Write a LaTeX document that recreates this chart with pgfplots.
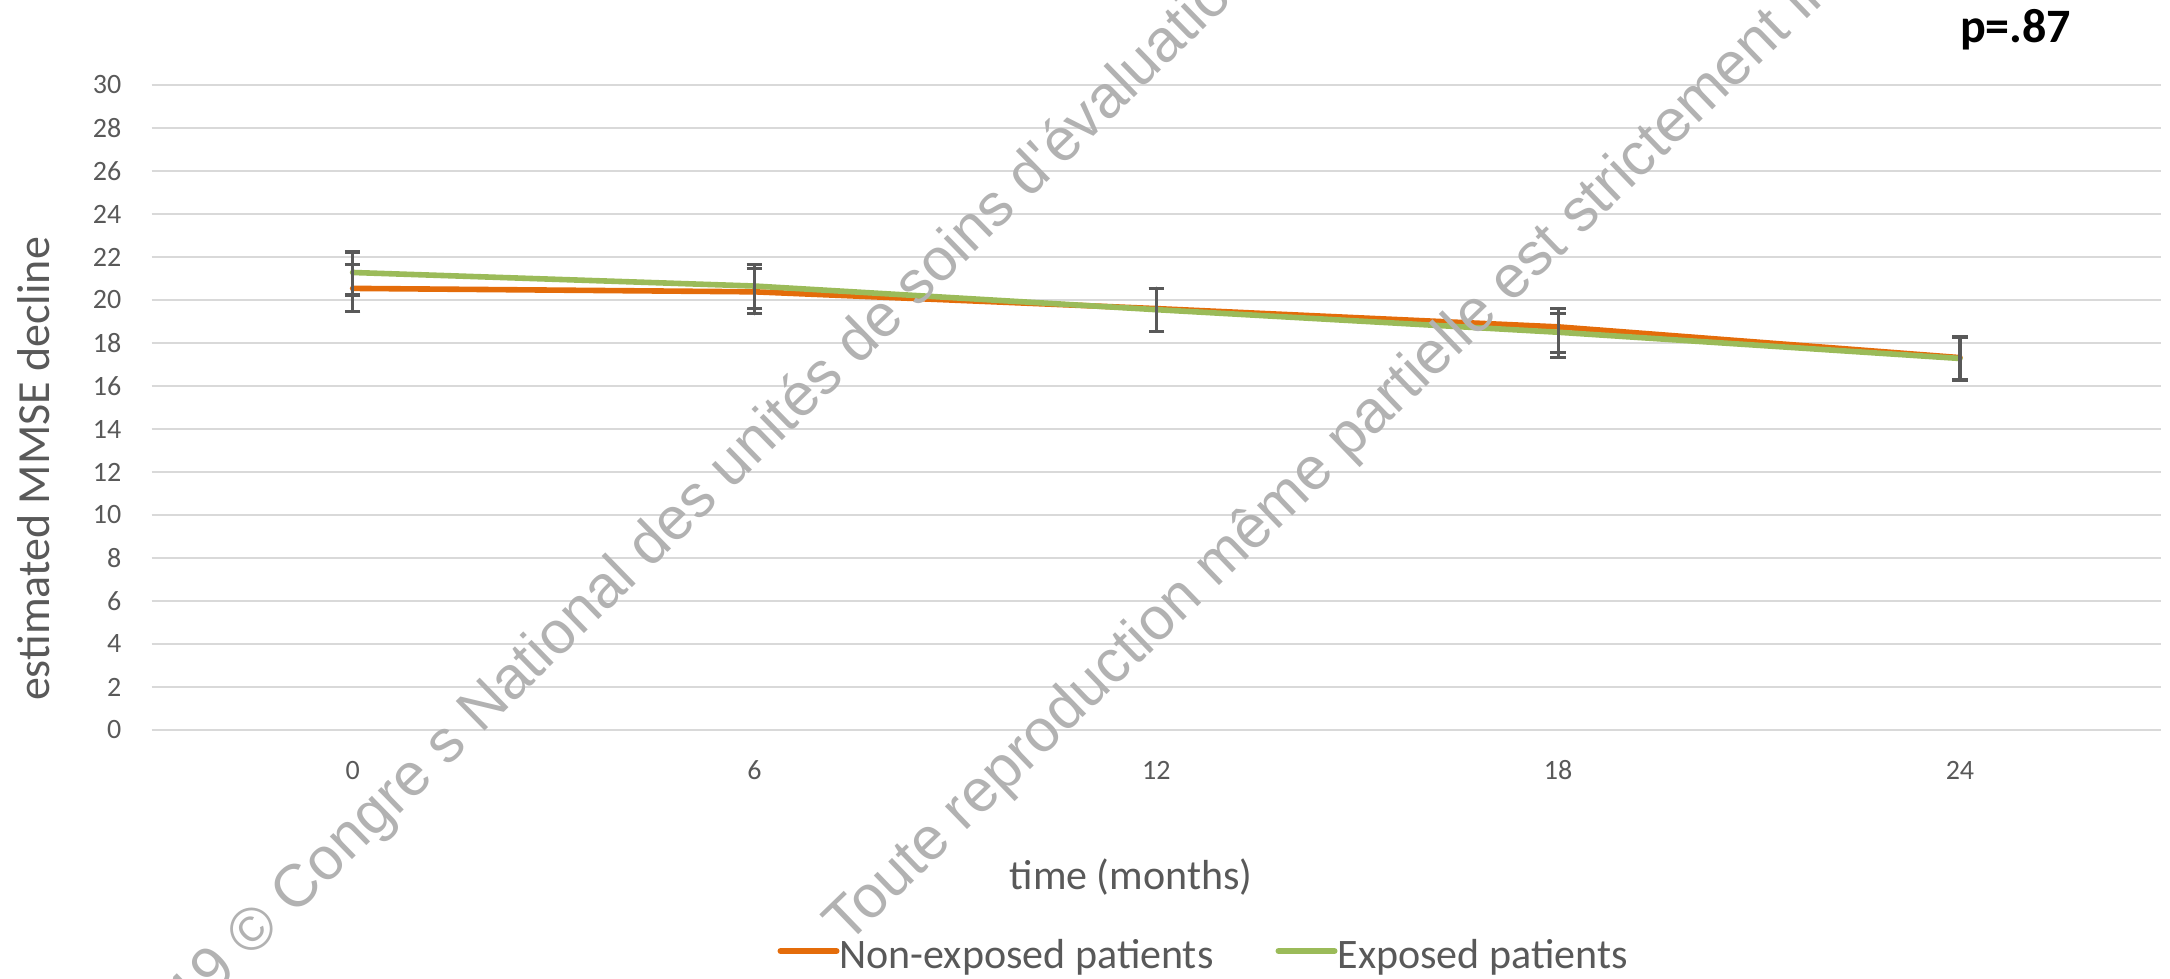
\documentclass[border=0pt]{standalone}
\usepackage{fontspec}
\setmainfont{Carlito}
\newfontfamily\wmfont{Liberation Sans}
\usepackage{pgfplots}
\pgfplotsset{compat=1.18}
\definecolor{txtgray}{RGB}{89,89,89}
\definecolor{gridgray}{RGB}{217,217,217}
\definecolor{orangeline}{RGB}{228,108,10}
\definecolor{greenline}{RGB}{155,187,89}
\definecolor{wmgray}{RGB}{178,178,178}
\begin{document}
\begin{tikzpicture}
\useasboundingbox (-75.85bp,-124.5bp) rectangle (1009.15bp,365bp);
\begin{axis}[
  at={(0,0)}, anchor=south west,
  scale only axis, width=1004.6bp, height=322.5bp,
  xmin=-3, xmax=27, ymin=0, ymax=30,
  xtick={0,6,12,18,24}, ytick={0,2,...,30},
  ymajorgrids, major grid style={draw=gridgray, line width=1.3bp},
  axis line style={draw=none}, major tick length=0pt,
  /pgf/number format/assume math mode=true,
  tick label style={font=\fontsize{14bp}{16bp}\selectfont, text=txtgray},
  xticklabel style={anchor=base, inner sep=0pt, yshift=-24.5bp},
  yticklabel style={anchor=east, inner sep=0pt, xshift=-15bp},
  xlabel={time (months)},
  xlabel style={at={(axis description cs:0.4874,-0.2465)}, anchor=base, inner sep=0pt, font=\fontsize{21bp}{24bp}\selectfont, text=txtgray},
  ylabel={estimated MMSE decline},
  ylabel style={at={(axis description cs:-0.0508,0.4047)}, anchor=base, rotate=0, inner sep=0pt, font=\fontsize{23bp}{26bp}\selectfont, text=txtgray},
  error bars/y dir=both, error bars/y explicit,
  error bars/error bar style={draw=txtgray, line width=1.6bp},
  error bars/error mark options={draw=txtgray, line width=1.6bp, mark size=3.9bp, rotate=90},
  clip=false,
  legend style={at={(0.3083,-0.3488)}, anchor=west, draw=none, fill=none,
    legend columns=2, font=\fontsize{21bp}{24bp}\selectfont, text=txtgray,
    nodes={inner sep=0pt},
    /tikz/every odd column/.append style={column sep=0bp},
    /tikz/every even column/.append style={column sep=31bp}},
  legend image code/.code={\draw[#1, line width=3bp, line cap=round] (0bp,2bp) -- (28bp,2bp);},
]
\addplot[orangeline, line width=2.8bp, line cap=round, line join=round, mark=none]
  coordinates {
  (0,20.54) += (0,1.10) -= (0,1.06)
  (6,20.38) += (0,1.07) -= (0,1.02)
  (12,19.60) += (0,0.94) -= (0,1.05)
  (18,18.75) += (0,0.85) -= (0,1.19)
  (24,17.32) += (0,0.96) -= (0,1.05)
  };
\addlegendentry{Non-exposed patients}
\addplot[greenline, line width=2.8bp, line cap=round, line join=round, mark=none]
  coordinates {
  (0,21.28) += (0,0.95) -= (0,1.05)
  (6,20.65) += (0,0.99) -= (0,1.05)
  (12,19.55) += (0,1.00) -= (0,1.00)
  (18,18.50) += (0,0.87) -= (0,1.16)
  (24,17.28) += (0,1.00) -= (0,1.00)
  };
\addlegendentry{Exposed patients}
\end{axis}
\node[anchor=base, inner sep=0pt, font=\bfseries\fontsize{24bp}{28bp}\selectfont] at (932bp,343.6bp) {p=.87};
\node[anchor=base east, rotate=44.3, inner sep=0pt, text=wmgray, font=\wmfont\fontsize{30bp}{36bp}\selectfont] at (71.5bp,-93.3bp) {2019 ©\hspace*{0.28em}};
\node[anchor=base west, rotate=44.3, inner sep=0pt, text=wmgray, font=\wmfont\fontsize{30bp}{36bp}\selectfont] at (71.5bp,-93.3bp) {Congre s National des unités de soins d'évaluation et de prise en charge Alzheimer};
\node[anchor=base west, rotate=44, inner sep=0pt, text=wmgray, font=\wmfont\fontsize{30bp}{36bp}\selectfont] at (347.7bp,-108bp) {Toute reproduction même partielle est strictement interdite};
\end{tikzpicture}
\end{document}
